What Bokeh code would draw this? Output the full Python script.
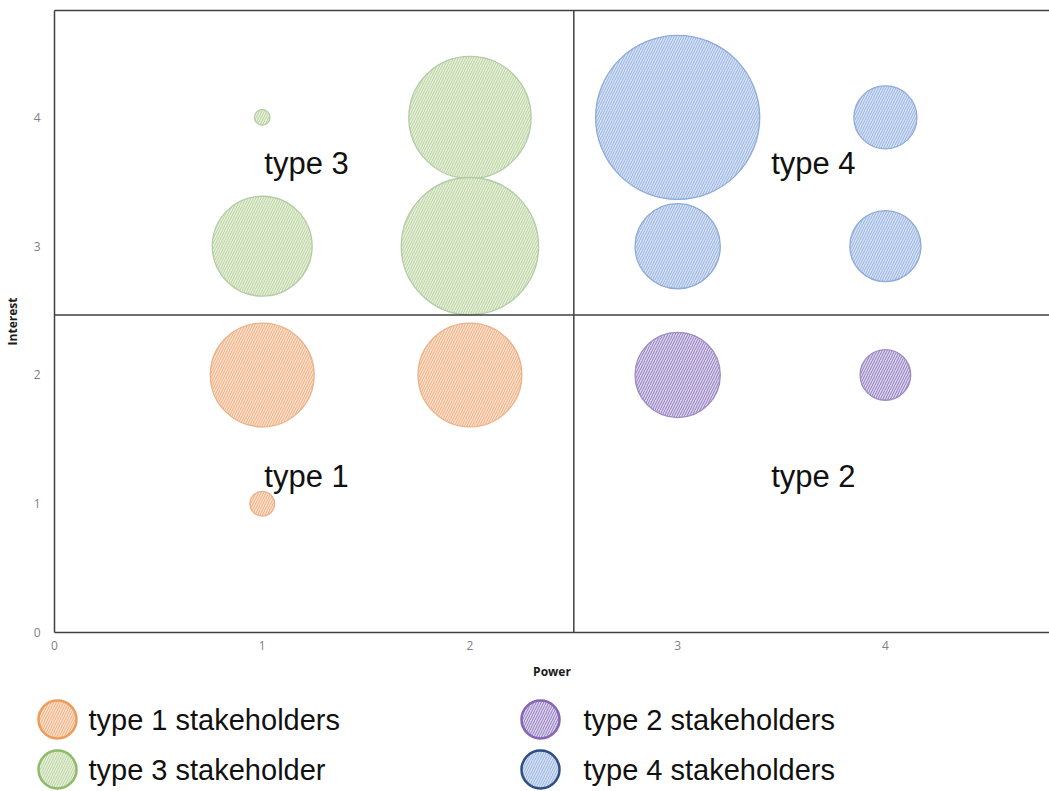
from bokeh.plotting import figure
from bokeh.models import Range1d, Span, ColumnDataSource, FixedTicker, LinearAxis
from bokeh.embed import file_html
from bokeh.resources import INLINE
from bokeh.core.properties import value
import math

# ---- stakeholder data: power, interest and bubble size per group ----
power_t1 = [1, 2, 1]
interest_t1 = [2, 2, 1]
size_t1 = [8.0, 8.0, 0.45]

power_t2 = [3, 4]
interest_t2 = [2, 2]
size_t2 = [5.4, 1.9]

power_t3 = [1, 1, 2, 2]
interest_t3 = [4, 3, 4, 3]
size_t3 = [0.18, 7.4, 11.1, 14.0]

power_t4 = [3, 3, 4, 4]
interest_t4 = [4, 3, 4, 3]
size_t4 = [20.0, 5.4, 2.95, 3.75]

group_names = ["type 1 stakeholders", "type 2 stakeholders",
               "type 3 stakeholder", "type 4 stakeholders"]

tick_values = [0, 1, 2, 3, 4]

quadrant_names = ["type 1", "type 2", "type 3", "type 4"]
quadrant_x = [1.01, 3.45, 1.01, 3.45]
quadrant_y = [1.21, 1.21, 3.64, 3.64]

power_split = 2.5
interest_split = 2.465

# ---- styling ----
fills = ["#fbe0cd", "#ddd5ec", "#e6efda", "#d6e2f4"]
stripes = ["#f2ad7c", "#8f79bf", "#b8d29e", "#95b1df"]
edges = ["#eab18a", "#9d8dc5", "#b2cca5", "#8eaadb"]
legend_edges = ["#f09c58", "#8566b4", "#8fbb6a", "#2f4f82"]
BUBBLE_SCALE = 36.7   # px of diameter per sqrt(size unit)
AXIS_COLOR = "#404040"
FONT = "Liberation Sans"
LEFT = 52             # px from page edge to the plot area

p = figure(width=1049, height=690,
           x_range=Range1d(0, 4.79), y_range=Range1d(0, 4.83),
           output_backend="svg", toolbar_location=None,
           min_border_left=LEFT, min_border_top=10, min_border_right=0,
           min_border_bottom=58)
p.outline_line_color = None
p.grid.visible = False
p.background_fill_color = "white"

for ax in (p.xaxis[0], p.yaxis[0]):
    ax.ticker = FixedTicker(ticks=tick_values)
    ax.major_tick_in = 0
    ax.major_tick_out = 0
    ax.minor_tick_line_color = None
    ax.axis_line_color = AXIS_COLOR
    ax.axis_line_width = 1.5
    ax.major_label_text_color = "#7f7f7f"
    ax.major_label_text_font = "Open Sans"
    ax.major_label_text_font_size = "12px"
    ax.axis_label_text_font = "Open Sans"
    ax.axis_label_text_font_size = "12px"
    ax.axis_label_text_font_style = "bold"
    ax.axis_label_text_color = "#1a1a1a"

p.xaxis.axis_label = "Power"
p.yaxis.axis_label = "Interest"
p.xaxis.major_label_standoff = 8
p.xaxis.axis_label_standoff = 10
p.yaxis.major_label_standoff = 14
p.yaxis.axis_label_standoff = 10

# top border line of the plot area
top = LinearAxis(ticker=FixedTicker(ticks=[]), major_tick_in=0, major_tick_out=0,
                 major_label_standoff=0, major_label_text_font_size="0px",
                 axis_line_color=AXIS_COLOR, axis_line_width=1.5)
p.add_layout(top, "above")

series = [
    (power_t1, interest_t1, size_t1),
    (power_t2, interest_t2, size_t2),
    (power_t3, interest_t3, size_t3),
    (power_t4, interest_t4, size_t4),
]

HATCH = dict(hatch_pattern="/", hatch_scale=5, hatch_weight=1)

for i, (px, py, ps) in enumerate(series):
    src = ColumnDataSource(dict(x=px, y=py,
                                d=[BUBBLE_SCALE * math.sqrt(s) for s in ps]))
    p.scatter("x", "y", size="d", source=src, marker="circle",
              fill_color=fills[i], line_color=edges[i], line_width=1.3,
              hatch_color=stripes[i], **HATCH)

p.add_layout(Span(location=power_split, dimension="height",
                  line_color=AXIS_COLOR, line_width=1.5))
p.add_layout(Span(location=interest_split, dimension="width",
                  line_color=AXIS_COLOR, line_width=1.5))

p.text(x=quadrant_x, y=quadrant_y, text=quadrant_names,
       text_font=value(FONT), text_font_size="31px",
       text_align="left", text_baseline="middle", text_color="#111111")

# ---- legend strip below the chart (coordinates in page pixels) ----
LEG_H = 101
lg = figure(width=1049, height=LEG_H, x_range=Range1d(0, 1049),
            y_range=Range1d(0, LEG_H), output_backend="svg",
            toolbar_location=None, min_border=0,
            x_axis_location=None, y_axis_location=None)
lg.outline_line_color = None
lg.grid.visible = False

col_x = [57, 540]
text_gap = [31, 43]
row_y = [LEG_H - 29, LEG_H - 79]
for i, name in enumerate(group_names):
    cx = col_x[i % 2]
    cy = row_y[i // 2]
    lg.scatter([cx], [cy], size=38, marker="circle",
               fill_color=fills[i], line_color=legend_edges[i], line_width=2.5,
               hatch_color=stripes[i], **HATCH)
    lg.text([cx + text_gap[i % 2]], [cy], text=[name], text_font=value(FONT),
            text_font_size="29px", text_align="left",
            text_baseline="middle", text_color="#111111")

# chart and legend strip are stacked as two independent roots
open("out.html", "w").write(file_html([p, lg], INLINE))
